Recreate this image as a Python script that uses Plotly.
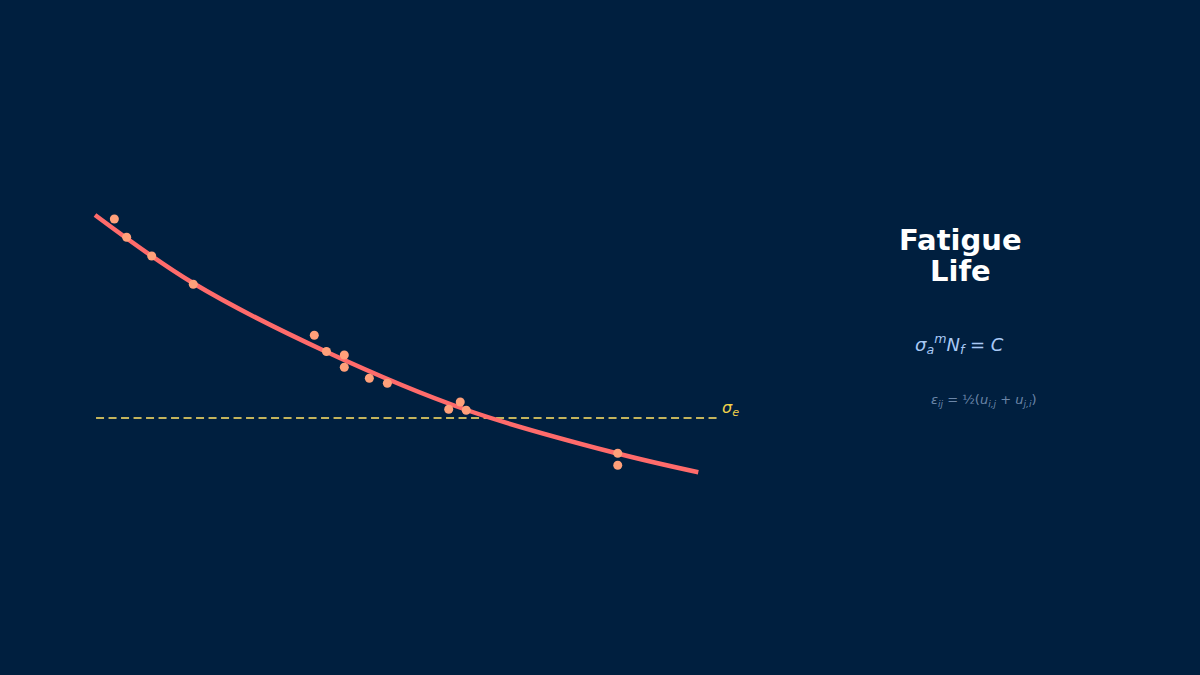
import plotly.graph_objects as go

# Test data: log10(cycles to failure) and stress amplitude (MPa)
test_logN = [3.129, 3.211, 3.378, 3.655, 4.462, 4.543, 4.662, 4.662, 4.829,
             4.949, 5.358, 5.435, 5.475, 6.485, 6.485]
test_stress = [399, 380.7, 362, 333.7, 282.7, 266.5, 263, 250.7, 239.7,
               234.7, 208.7, 216, 207.7, 164.7, 152.7]

# Fitted S-N curve
curve_logN = [3.0, 3.653, 4.545, 5.478, 6.478, 7.022]
curve_stress = [403, 335, 266, 208, 164.7, 145.7]

# Endurance limit
endurance_logN = [3.007, 7.167]
endurance_stress = [200, 200]

# Title lines
title_lines = ["Fatigue", "Life"]

BG = "#001f3f"

fig = go.Figure()
fig.add_trace(go.Scatter(
    x=endurance_logN, y=endurance_stress, mode="lines",
    line=dict(color="#c4b45c", width=2, dash="8px,4.5px"),
    hoverinfo="skip", showlegend=False))
fig.add_trace(go.Scatter(
    x=curve_logN, y=curve_stress, mode="lines",
    line=dict(color="#ff6b6b", width=4.5, shape="spline", smoothing=1.0),
    showlegend=False))
fig.add_trace(go.Scatter(
    x=test_logN, y=test_stress, mode="markers",
    marker=dict(color="#ffa07a", size=9, line=dict(width=0)),
    showlegend=False))

fig.add_annotation(x=endurance_logN[1], y=endurance_stress[0], xref="x", yref="y",
                   text="<i>σ<sub>e</sub></i>", showarrow=False,
                   xanchor="left", yanchor="middle", xshift=0, yshift=10,
                   font=dict(color="#f2d24a", size=16, family="DejaVu Sans"))

for line_text, ypos in zip(title_lines, [240, 271]):
    fig.add_annotation(x=960, y=ypos, xref="x2", yref="y2", text="<b>" + line_text + "</b>",
                       showarrow=False, font=dict(color="white", size=29, family="DejaVu Sans"),
                       xanchor="center", yanchor="middle")
fig.add_annotation(x=959, y=344, xref="x2", yref="y2",
                   text="<i>σ<sub>a</sub><sup>m</sup>N<sub>f</sub></i> = <i>C</i>",
                   showarrow=False, font=dict(color="#a9c9f5", size=18, family="DejaVu Sans"),
                   xanchor="center", yanchor="middle")
fig.add_annotation(x=984, y=400, xref="x2", yref="y2",
                   text="<i>ε<sub>ij</sub></i> = ½(<i>u<sub>i,j</sub></i> + <i>u<sub>j,i</sub></i>)",
                   showarrow=False, font=dict(color="#6b86a8", size=13, family="DejaVu Sans"),
                   xanchor="center", yanchor="middle")

fig.update_layout(
    width=1200, height=675,
    paper_bgcolor=BG, plot_bgcolor=BG,
    margin=dict(l=0, r=0, t=0, b=0),
    xaxis=dict(range=[3 - 95 / 150, 3 + 1105 / 150], visible=False, domain=[0, 1]),
    yaxis=dict(range=[618 - 675, 618], visible=False, domain=[0, 1]),
    xaxis2=dict(range=[0, 1200], visible=False, overlaying="x", domain=[0, 1]),
    yaxis2=dict(range=[675, 0], visible=False, overlaying="y", domain=[0, 1]),
)
fig.write_html("out.html", config={"displayModeBar": False},
               post_script="document.body.style.margin='0';document.body.style.background='#001f3f';")
